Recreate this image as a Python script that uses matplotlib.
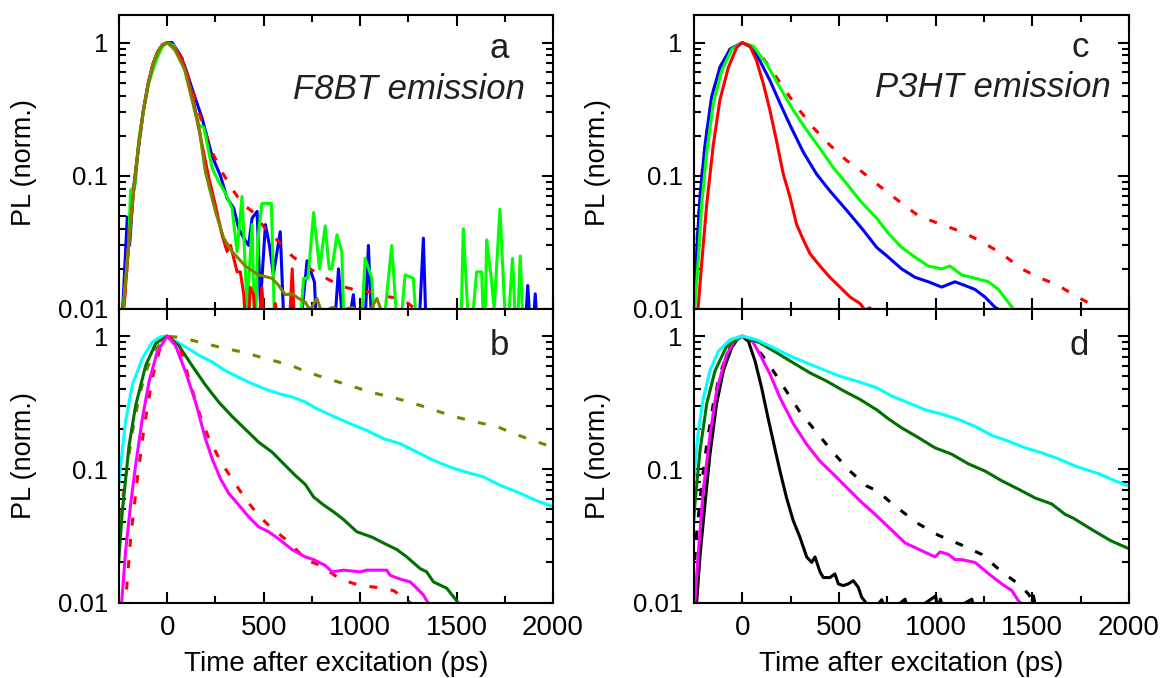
import matplotlib
matplotlib.use("Agg")
import matplotlib.pyplot as plt
from matplotlib.ticker import LogLocator, NullFormatter, FixedLocator

plt.rcParams['font.family'] = ['Liberation Sans', 'DejaVu Sans']

# ---- panel a : F8BT emission ----
a_blue_x = [-250, -228, -207, -195, -175, -150, -125, -100, -75, -50, -25, 0, 26, 69, 95, 129, 181, 233, 276, 310,
            345, 371, 397, 422, 440, 466, 483, 509, 530, 550, 586, 610, 630, 648, 680, 725, 763, 780, 830, 860, 888,
            920, 965, 990, 1020, 1043, 1065, 1300, 1328, 1345, 1850, 1869, 1890, 1908, 1925]
a_blue_y = [0.004, 0.012, 0.049, 0.03, 0.08, 0.16, 0.3, 0.48, 0.68, 0.85, 0.96, 1.0, 1.0, 0.8, 0.64, 0.45, 0.27, 0.14,
            0.1, 0.068, 0.057, 0.04, 0.034, 0.03, 0.048, 0.054, 0.011, 0.043, 0.03, 0.018, 0.038, 0.005, 0.005, 0.011,
            0.005, 0.023, 0.016, 0.005, 0.007, 0.005, 0.02, 0.005, 0.0128, 0.005, 0.005, 0.03, 0.005, 0.005, 0.034,
            0.005, 0.005, 0.015, 0.005, 0.013, 0.005]

a_reddash_x = [-250, -225, -200, -175, -150, -125, -100, -75, -50, -25, 0, 40, 78, 129, 181, 233, 284, 336, 388, 440,
               509, 578, 647, 716, 793, 897, 992, 1052, 1104, 1173, 1207, 1250, 1302, 1330]
a_reddash_y = [0.004, 0.01, 0.03, 0.075, 0.16, 0.3, 0.48, 0.68, 0.85, 0.96, 1.0, 0.92, 0.76, 0.45, 0.25, 0.15, 0.107,
               0.08, 0.062, 0.054, 0.04, 0.032, 0.025, 0.021, 0.018, 0.0149, 0.0137, 0.0134, 0.0126, 0.0122, 0.012,
               0.011, 0.0095, 0.008]

a_green_x = [-250, -228, -200, -190, -181, -165, -147, -121, -95, -60, -26, 0, 34, 78, 121, 164, 190, 216, 233, 267,
             302, 336, 362, 388, 414, 440, 455, 470, 491, 517, 540, 560, 575, 600, 640, 680, 707, 730, 759, 790, 819,
             840, 854, 880, 905, 920, 960, 1000, 1026, 1061, 1080, 1110, 1164, 1200, 1233, 1276, 1300, 1500, 1520,
             1535, 1569, 1604, 1630, 1645, 1656, 1680, 1695, 1725, 1760, 1790, 1812, 1830, 1850, 1870]
a_green_y = [0.004, 0.01, 0.03, 0.078, 0.08, 0.087, 0.19, 0.32, 0.5, 0.72, 0.93, 1.0, 0.95, 0.72, 0.45, 0.24, 0.23,
             0.15, 0.114, 0.09, 0.074, 0.057, 0.027, 0.07, 0.01, 0.043, 0.005, 0.034, 0.062, 0.062, 0.062, 0.005,
             0.005, 0.005, 0.005, 0.005, 0.017, 0.017, 0.053, 0.02, 0.042, 0.02, 0.02, 0.036, 0.027, 0.005, 0.005,
             0.005, 0.024, 0.017, 0.005, 0.005, 0.03, 0.005, 0.018, 0.017, 0.005, 0.005, 0.005, 0.04, 0.005, 0.019,
             0.019, 0.005, 0.033, 0.017, 0.01, 0.056, 0.005, 0.024, 0.005, 0.025, 0.005, 0.005]

a_red_x = [-250, -225, -200, -175, -150, -125, -100, -75, -50, -25, 0, 40, 78, 112, 147, 181, 216, 250, 284, 310, 328,
           345, 362, 379, 397, 414, 431, 448, 465, 491, 509, 540, 560, 600, 630, 648, 665, 700]
a_red_y = [0.004, 0.01, 0.03, 0.075, 0.16, 0.3, 0.48, 0.68, 0.85, 0.96, 1.0, 0.9, 0.74, 0.51, 0.30, 0.17, 0.096, 0.06,
           0.036, 0.027, 0.03, 0.024, 0.019, 0.019, 0.0128, 0.005, 0.0145, 0.0128, 0.005, 0.0145, 0.005, 0.005, 0.011,
           0.005, 0.006, 0.02, 0.005, 0.005]

a_olive_x = [-250, -228, -200, -175, -150, -125, -100, -75, -50, -25, 0, 40, 90, 167, 198, 250, 293, 336, 405, 474, 543,
             578, 612, 647, 681, 715, 740, 776, 800, 860, 900, 960, 1000, 1052, 1087, 1110, 1150]
a_olive_y = [0.004, 0.01, 0.03, 0.075, 0.16, 0.3, 0.48, 0.68, 0.85, 0.96, 1.0, 0.88, 0.63, 0.22, 0.107, 0.054, 0.034,
             0.027, 0.021, 0.018, 0.017, 0.015, 0.0128, 0.013, 0.012, 0.0113, 0.0098, 0.012, 0.0095, 0.0103, 0.0097,
             0.0103, 0.0096, 0.0098, 0.012, 0.0097, 0.008]

# ---- panel b ----
b_olive_x = [-250, -241, -216, -181, -147, -112, -60, 0, 60, 129, 267, 388, 509, 647, 707, 828, 940, 1052, 1156, 1259,
             1380, 1483, 1604, 1707, 1821, 1956, 2010]
b_olive_y = [0.03, 0.048, 0.085, 0.19, 0.34, 0.54, 0.8, 1.0, 0.98, 0.93, 0.83, 0.76, 0.68, 0.6, 0.55, 0.48, 0.43, 0.38,
             0.35, 0.32, 0.28, 0.25, 0.226, 0.21, 0.18, 0.154, 0.145]

b_cyan_x = [-259, -241, -216, -181, -129, -78, -34, 0, 95, 164, 233, 302, 371, 440, 509, 578, 647, 716, 776, 862, 949,
            1035, 1121, 1207, 1294, 1380, 1466, 1552, 1638, 1725, 1821, 1917, 2010]
b_cyan_y = [0.06, 0.107, 0.23, 0.43, 0.68, 0.9, 0.99, 1.0, 0.83, 0.72, 0.64, 0.55, 0.49, 0.44, 0.40, 0.37, 0.35, 0.32,
            0.285, 0.25, 0.22, 0.196, 0.17, 0.156, 0.135, 0.117, 0.104, 0.095, 0.088, 0.076, 0.067, 0.058, 0.052]

b_dkgreen_x = [-256, -253, -233, -198, -164, -112, -60, 0, 60, 129, 198, 267, 336, 405, 474, 543, 612, 664, 716, 759,
               811, 862, 914, 983, 1061, 1121, 1190, 1242, 1311, 1345, 1380, 1449, 1492, 1518, 1550]
b_dkgreen_y = [0.015, 0.019, 0.048, 0.15, 0.30, 0.6, 0.88, 1.0, 0.85, 0.6, 0.43, 0.32, 0.25, 0.2, 0.16, 0.135, 0.107,
               0.09, 0.077, 0.062, 0.054, 0.048, 0.042, 0.034, 0.031, 0.028, 0.025, 0.022, 0.018, 0.017, 0.0143, 0.0128,
               0.0107, 0.0095, 0.0085]

b_reddash_x = [-230, -216, -190, -155, -121, -78, -34, 0, 60, 112, 164, 216, 284, 336, 405, 474, 543, 612, 681, 716,
               793, 897, 1000, 1087, 1173, 1207, 1259, 1300]
b_reddash_y = [0.006, 0.01, 0.03, 0.085, 0.2, 0.48, 0.85, 1.0, 0.9, 0.48, 0.27, 0.17, 0.11, 0.085, 0.06, 0.045, 0.036,
               0.03, 0.024, 0.021, 0.019, 0.015, 0.0134, 0.013, 0.0123, 0.0114, 0.01, 0.0085]

b_magenta_x = [-250, -236, -216, -190, -164, -129, -95, -52, 0, 43, 95, 147, 198, 233, 276, 319, 371, 422, 474, 526,
               578, 647, 716, 759, 819, 854, 914, 1000, 1035, 1104, 1138, 1156, 1207, 1259, 1294, 1328, 1354, 1380]
b_magenta_y = [0.006, 0.01, 0.024, 0.054, 0.107, 0.24, 0.45, 0.76, 1.0, 0.85, 0.54, 0.32, 0.17, 0.12, 0.085, 0.066,
               0.054, 0.044, 0.037, 0.034, 0.03, 0.025, 0.022, 0.021, 0.019, 0.017, 0.0175, 0.017, 0.0175, 0.0175,
               0.0175, 0.016, 0.015, 0.0143, 0.0128, 0.0114, 0.0098, 0.008]

# ---- panel c : P3HT emission ----
c_reddash_x = [-260, -253, -236, -219, -202, -176, -150, -116, -64, 0, 74, 143, 212, 281, 367, 453, 540, 609, 695, 807,
               911, 1031, 1135, 1238, 1342, 1445, 1531, 1635, 1716, 1812, 1860]
c_reddash_y = [0.011, 0.0145, 0.031, 0.069, 0.13, 0.26, 0.43, 0.65, 0.89, 1.0, 0.89, 0.65, 0.46, 0.33, 0.23, 0.17, 0.13,
               0.11, 0.087, 0.065, 0.05, 0.043, 0.038, 0.032, 0.026, 0.02, 0.0173, 0.015, 0.0127, 0.0107, 0.009]

c_blue_x = [-250, -236, -219, -193, -159, -116, -64, 0, 48, 91, 143, 195, 247, 316, 384, 453, 540, 626, 695, 755, 824,
            893, 962, 1031, 1100, 1152, 1204, 1255, 1307, 1333, 1360]
c_blue_y = [0.0103, 0.027, 0.069, 0.17, 0.39, 0.65, 0.89, 1.0, 0.92, 0.73, 0.52, 0.35, 0.24, 0.15, 0.103, 0.077, 0.055,
            0.039, 0.029, 0.0245, 0.02, 0.0173, 0.016, 0.0146, 0.016, 0.015, 0.014, 0.0123, 0.0103, 0.0098, 0.009]

c_green_x = [-250, -245, -228, -210, -184, -150, -107, -55, 0, 57, 126, 195, 264, 333, 402, 471, 540, 609, 695, 755,
             824, 893, 962, 1031, 1074, 1135, 1204, 1273, 1325, 1368, 1402, 1430]
c_green_y = [0.007, 0.0103, 0.023, 0.061, 0.15, 0.35, 0.61, 0.89, 1.0, 0.94, 0.69, 0.46, 0.31, 0.22, 0.16, 0.115, 0.087,
             0.065, 0.048, 0.037, 0.029, 0.0245, 0.021, 0.02, 0.021, 0.018, 0.017, 0.016, 0.014, 0.0116, 0.01, 0.0088]

c_red_x = [-240, -228, -210, -184, -150, -116, -72, -29, 0, 40, 74, 109, 143, 178, 212, 247, 281, 316, 350, 402, 453,
           505, 557, 609, 634, 660, 700]
c_red_y = [0.007, 0.0103, 0.022, 0.061, 0.17, 0.37, 0.65, 0.92, 1.0, 0.94, 0.73, 0.49, 0.31, 0.18, 0.103, 0.069, 0.043,
           0.033, 0.026, 0.021, 0.0173, 0.0146, 0.0123, 0.011, 0.0098, 0.0102, 0.008]

# ---- panel d ----
d_black_x = [-250, -236, -219, -193, -167, -133, -98, -55, -21, 0, 31, 66, 100, 134, 160, 195, 229, 264, 298, 333, 359,
             376, 402, 419, 453, 479, 497, 522, 548, 574, 600, 617, 643, 680, 721, 735, 760, 842, 855, 880, 1000, 1010,
             1025, 1040, 1070, 1187, 1200, 1230, 1490, 1506, 1520, 1580]
d_black_y = [0.005, 0.01, 0.022, 0.055, 0.13, 0.31, 0.55, 0.82, 0.97, 1.0, 0.92, 0.65, 0.41, 0.24, 0.163, 0.097, 0.061,
             0.041, 0.031, 0.022, 0.02, 0.022, 0.017, 0.0154, 0.0154, 0.0164, 0.0138, 0.0134, 0.0138, 0.0146, 0.013,
             0.011, 0.0098, 0.0088, 0.0105, 0.009, 0.0085, 0.0106, 0.0088, 0.0085, 0.0112, 0.009, 0.0106, 0.0088,
             0.0085, 0.0106, 0.0088, 0.0085, 0.0085, 0.0112, 0.0088, 0.0085]

d_blackdash_x = [-260, -253, -236, -210, -184, -150, -116, -64, 0, 74, 143, 212, 298, 384, 471, 557, 643, 697, 790, 911,
                 1014, 1135, 1238, 1342, 1428, 1480, 1506, 1530]
d_blackdash_y = [0.01, 0.015, 0.033, 0.077, 0.154, 0.31, 0.52, 0.82, 1.0, 0.82, 0.6, 0.42, 0.27, 0.19, 0.133, 0.097,
                 0.075, 0.069, 0.053, 0.039, 0.032, 0.027, 0.023, 0.017, 0.0138, 0.0116, 0.01, 0.009]

d_magenta_x = [-255, -245, -228, -202, -167, -133, -81, -29, 0, 48, 91, 143, 195, 264, 333, 402, 471, 540, 609, 686,
               755, 842, 928, 997, 1023, 1066, 1100, 1135, 1204, 1273, 1342, 1394, 1428, 1445, 1470]
d_magenta_y = [0.006, 0.01, 0.023, 0.069, 0.18, 0.39, 0.73, 0.97, 1.0, 0.94, 0.73, 0.52, 0.345, 0.22, 0.154, 0.115,
               0.092, 0.073, 0.058, 0.046, 0.037, 0.028, 0.0245, 0.022, 0.024, 0.023, 0.021, 0.021, 0.02, 0.0165,
               0.0138, 0.0123, 0.0103, 0.0098, 0.008]

d_dkgreen_x = [-257, -245, -219, -184, -141, -81, 0, 91, 178, 264, 350, 436, 522, 609, 695, 755, 824, 911, 997, 1083,
               1169, 1256, 1342, 1428, 1514, 1600, 1669, 1712, 1812, 1908, 2010]
d_dkgreen_y = [0.031, 0.055, 0.137, 0.31, 0.55, 0.84, 1.0, 0.89, 0.75, 0.63, 0.53, 0.46, 0.39, 0.335, 0.28, 0.24,
               0.205, 0.173, 0.145, 0.13, 0.11, 0.097, 0.082, 0.071, 0.061, 0.055, 0.046, 0.043, 0.035, 0.029, 0.025]

d_cyan_x = [-257, -245, -228, -202, -167, -124, -64, 0, 74, 160, 247, 333, 419, 505, 591, 695, 773, 859, 945, 1031,
            1118, 1204, 1290, 1376, 1463, 1549, 1635, 1721, 1850, 1927, 2010]
d_cyan_y = [0.063, 0.103, 0.19, 0.34, 0.55, 0.77, 0.94, 1.0, 0.94, 0.82, 0.71, 0.63, 0.56, 0.5, 0.46, 0.41, 0.355,
            0.316, 0.28, 0.26, 0.237, 0.21, 0.18, 0.163, 0.145, 0.133, 0.12, 0.106, 0.092, 0.082, 0.074]

RED, BLUE, GREEN, OLIVE = '#ff0000', '#0000ff', '#00ff00', '#808000'
CYAN, DKGREEN, MAGENTA, BLACK = '#00ffff', '#007000', '#ff00ff', '#000000'
LW = 2.2
DASH = (2.6, 4.4)


def style(ax, bottom_labels):
    ax.set_yscale('log')
    ax.set_xlim(-250, 2000)
    ax.set_ylim(0.01, 1.6)
    ax.set_xticks([0, 500, 1000, 1500, 2000])
    ax.xaxis.set_minor_locator(FixedLocator(list(range(-250, 2001, 250))))
    ax.set_yticks([0.01, 0.1, 1])
    ax.set_yticklabels(['0.01', '0.1', '1'])
    ax.yaxis.set_minor_locator(LogLocator(base=10, subs=range(2, 10), numticks=20))
    ax.yaxis.set_minor_formatter(NullFormatter())
    ax.tick_params(which='both', direction='in', top=True, right=True, width=1.5)
    ax.tick_params(which='major', length=8)
    ax.tick_params(which='minor', length=5)
    ax.tick_params(axis='y', labelsize=18.5, pad=8)
    ax.tick_params(axis='x', labelsize=20, pad=9, labelbottom=bottom_labels)
    for s in ax.spines.values():
        s.set_linewidth(1.5)
    ax.set_ylabel('PL (norm.)', fontsize=19.5)
    ax.yaxis.set_label_coords(-0.19, 0.5)
    if bottom_labels:
        ax.set_xlabel('Time after excitation (ps)', fontsize=20)
        ax.xaxis.set_label_coords(0.5, -0.165)


fig = plt.figure(figsize=(11.62, 6.78), dpi=100)
h = 0.433
ax_a = fig.add_axes([0.1024, 0.1113 + h, 0.3735, h])
ax_b = fig.add_axes([0.1024, 0.1113, 0.3735, h])
ax_c = fig.add_axes([0.5972, 0.1113 + h, 0.3744, h])
ax_d = fig.add_axes([0.5972, 0.1113, 0.3744, h])

# panel a
ax_a.plot(a_blue_x, a_blue_y, color=BLUE, lw=LW)
ax_a.plot(a_reddash_x, a_reddash_y, color=RED, lw=LW, dashes=DASH)
ax_a.plot(a_green_x, a_green_y, color=GREEN, lw=LW)
ax_a.plot(a_red_x, a_red_y, color=RED, lw=LW)
ax_a.plot(a_olive_x, a_olive_y, color=OLIVE, lw=LW)

# panel b
ax_b.plot(b_olive_x, b_olive_y, color=OLIVE, lw=LW, dashes=DASH)
ax_b.plot(b_cyan_x, b_cyan_y, color=CYAN, lw=LW)
ax_b.plot(b_dkgreen_x, b_dkgreen_y, color=DKGREEN, lw=LW)
ax_b.plot(b_reddash_x, b_reddash_y, color=RED, lw=LW, dashes=DASH)
ax_b.plot(b_magenta_x, b_magenta_y, color=MAGENTA, lw=LW)

# panel c
ax_c.plot(c_reddash_x, c_reddash_y, color=RED, lw=LW, dashes=DASH)
ax_c.plot(c_blue_x, c_blue_y, color=BLUE, lw=LW)
ax_c.plot(c_green_x, c_green_y, color=GREEN, lw=LW)
ax_c.plot(c_red_x, c_red_y, color=RED, lw=LW)

# panel d
ax_d.plot(d_black_x, d_black_y, color=BLACK, lw=LW)
ax_d.plot(d_blackdash_x, d_blackdash_y, color=BLACK, lw=LW, dashes=DASH)
ax_d.plot(d_magenta_x, d_magenta_y, color=MAGENTA, lw=LW)
ax_d.plot(d_dkgreen_x, d_dkgreen_y, color=DKGREEN, lw=LW)
ax_d.plot(d_cyan_x, d_cyan_y, color=CYAN, lw=LW)

style(ax_a, False)
style(ax_b, True)
style(ax_c, False)
style(ax_d, True)

TXT = '#231f20'
ax_a.text(0.898, 0.856, 'a', transform=ax_a.transAxes, ha='right', va='baseline', fontsize=25, color=TXT)
ax_a.text(0.935, 0.716, 'F8BT emission', transform=ax_a.transAxes, ha='right', va='baseline', fontsize=25,
          style='italic', color=TXT)
ax_b.text(0.898, 0.843, 'b', transform=ax_b.transAxes, ha='right', va='baseline', fontsize=25, color=TXT)
ax_c.text(0.907, 0.857, 'c', transform=ax_c.transAxes, ha='right', va='baseline', fontsize=25, color=TXT)
ax_c.text(0.959, 0.723, 'P3HT emission', transform=ax_c.transAxes, ha='right', va='baseline', fontsize=25,
          style='italic', color=TXT)
ax_d.text(0.907, 0.843, 'd', transform=ax_d.transAxes, ha='right', va='baseline', fontsize=25, color=TXT)

fig.savefig('out.png', dpi=100)
